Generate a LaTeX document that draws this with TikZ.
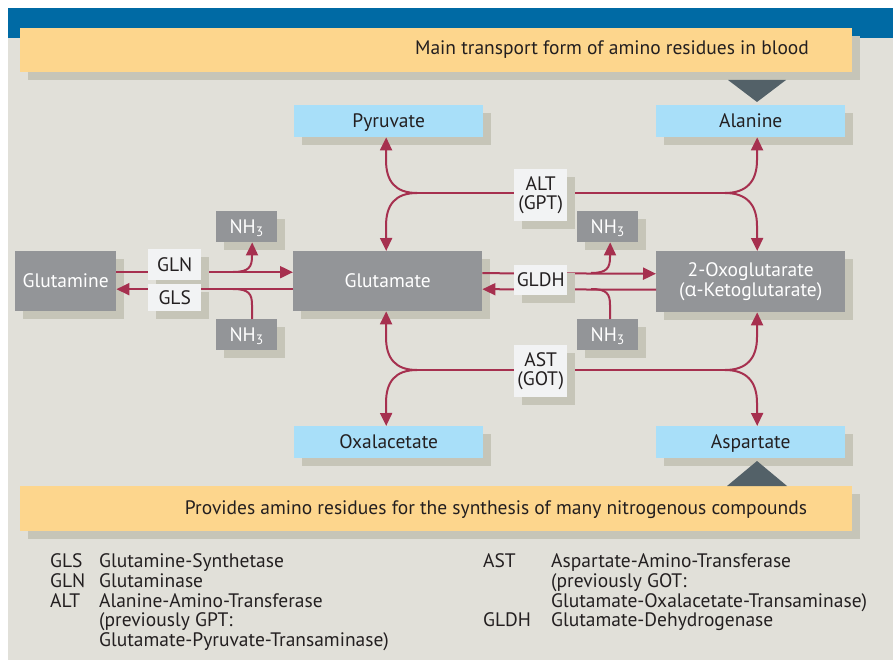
\documentclass[tikz,border=0pt]{standalone}
\usepackage{fontspec}
\setmainfont{PT Sans}
\newfontfamily\grk{Open Sans}
\usetikzlibrary{arrows.meta,shadows}
\definecolor{bgc}{HTML}{E1E0D9}
\definecolor{barc}{HTML}{006AA4}
\definecolor{yelc}{HTML}{FDD68D}
\definecolor{shadc}{HTML}{C6C5B8}
\definecolor{gboxc}{HTML}{939598}
\definecolor{lbluec}{HTML}{A8DFF9}
\definecolor{arrc}{HTML}{A6304F}
\definecolor{tric}{HTML}{536168}
\definecolor{enzc}{HTML}{F2F3F4}
\definecolor{txtc}{HTML}{231F20}
\tikzset{
  shad/.style={drop shadow={shadow xshift=8pt,shadow yshift=-8pt,opacity=1,fill=shadc}},
  fnt/.style={font=\fontsize{19.5}{19.5}\selectfont},
  box/.style={anchor=north west, inner sep=0pt, shad, fnt, align=center},
  one/.style={text height=13.5pt, text depth=0pt},
  metab/.style={box, one, fill=lbluec, text=txtc},
  gbox/.style={box, fill=gboxc, text=white},
  enz/.style={box, fill=enzc, text=txtc},
  ybox/.style={anchor=north west, inner sep=0pt, shad, fill=yelc},
  ln/.style={draw=arrc, line width=2pt},
  arr/.style={ln, -{Triangle[length=13pt,width=12pt]}},
  leg/.style={anchor=base west, inner sep=0pt, fnt, text=txtc},
  tri/.style={fill=tric}
}
\begin{document}
\begin{tikzpicture}[x=1pt,y=-1pt]
\useasboundingbox (0,0) rectangle (893,660);
\fill[white] (0,0) rectangle (893,660);
\fill[bgc] (8,38) rectangle (893,660);
\fill[barc] (8,8) rectangle (893,38);

% top banner
\node[ybox, minimum width=832pt, minimum height=44pt] (topbox) at (20,28) {};
\node[fnt, one, text=txtc] (toptxt) at (612,48) {Main transport form of amino residues in blood};
\fill[tri] (728,80) -- (786,80) -- (757,102) -- cycle;

% metabolites
\node[metab, minimum width=189pt, minimum height=32pt] (pyr) at (294,105) {Pyruvate};
\node[metab, minimum width=189pt, minimum height=32pt] (ala) at (656,105) {Alanine};
\node[gbox, one, minimum width=101pt, minimum height=60pt] (gln) at (15,251) {Glutamine};
\node[gbox, one, minimum width=189pt, minimum height=60pt] (glu) at (293,251) {Glutamate};
\node[gbox, minimum width=189pt, minimum height=61pt] (oxo) at (656,251) {2-Oxoglutarate\\({\grk α}-Ketoglutarate)};
\node[metab, minimum width=189pt, minimum height=32pt] (oxa) at (294,426) {Oxalacetate};
\node[metab, minimum width=189pt, minimum height=32pt] (asp) at (656,426) {Aspartate};

\node[gbox, one, minimum width=61pt, minimum height=31pt] (nh1) at (216,211) {NH\textsubscript{3}};
\node[gbox, one, minimum width=61pt, minimum height=31pt] (nh2) at (216,319) {NH\textsubscript{3}};
\node[gbox, one, minimum width=61pt, minimum height=31pt] (nh3) at (577,211) {NH\textsubscript{3}};
\node[gbox, one, minimum width=61pt, minimum height=31pt] (nh4) at (577,319) {NH\textsubscript{3}};

% GLN / GLS
\draw[arr] ([yshift=9pt]gln.east) -- ([yshift=9pt]glu.west);
\draw[arr] ([yshift=-8pt]glu.west) -- ([yshift=-8pt]gln.east);
\coordinate (b1) at (233,272);
\coordinate (b2) at (233,289);
\draw[arr] (b1) .. controls (249,272) and (252,267) .. (252,256) -- ([xshift=5.5pt]nh1.south);
\draw[ln] ([xshift=5.5pt]nh2.north) -- (252,305) .. controls (252,294) and (249,289) .. (b2);

% GLDH
\draw[arr] ([yshift=8pt]glu.east) -- ([yshift=8pt]oxo.west);
\draw[arr] ([yshift=-8pt]oxo.west) -- ([yshift=-8pt]glu.east);
\coordinate (b3) at (591,273);
\coordinate (b4) at (591,289);
\draw[arr] (b3) .. controls (607,273) and (610,268) .. (610,257) -- ([xshift=2.5pt]nh3.south);
\draw[ln] ([xshift=2.5pt]nh4.north) -- (610,305) .. controls (610,294) and (607,289) .. (b4);

% ALT
\coordinate (altL) at (417,193);
\coordinate (altR) at (725,193);
\draw[ln] (altL) -- (altR);
\draw[arr] (altL) .. controls (395,193) and (386,181) .. (386,160) -- ([xshift=-2.5pt]pyr.south);
\draw[arr] (altL) .. controls (395,193) and (386,205) .. (386,226) -- ([xshift=-1.5pt]glu.north);
\draw[arr] (altR) .. controls (747,193) and (757,181) .. (757,160) -- ([xshift=6.5pt]ala.south);
\draw[arr] (altR) .. controls (747,193) and (757,205) .. (757,226) -- ([xshift=6.5pt]oxo.north);

% AST
\coordinate (astL) at (417,370);
\coordinate (astR) at (725,370);
\draw[ln] (astL) -- (astR);
\draw[arr] (astL) .. controls (395,370) and (386,358) .. (386,337) -- ([xshift=-1.5pt]glu.south);
\draw[arr] (astL) .. controls (395,370) and (386,382) .. (386,403) -- ([xshift=-2.5pt]oxa.north);
\draw[arr] (astR) .. controls (747,370) and (757,358) .. (757,337) -- ([xshift=6.5pt]oxo.south);
\draw[arr] (astR) .. controls (747,370) and (757,382) .. (757,403) -- ([xshift=6.5pt]asp.north);

% enzymes
\node[enz, one, minimum width=53pt, minimum height=31pt] (eGLN) at (148,249) {GLN};
\node[enz, one, minimum width=53pt, minimum height=27pt] (eGLS) at (148,284) {GLS};
\node[enz, minimum width=53pt, minimum height=52pt, font=\fontsize{19.5}{18.5}\selectfont] (eALT) at (514,169) {ALT\\(GPT)};
\node[enz, one, minimum width=53pt, minimum height=30pt] (eGLDH) at (514,265) {GLDH};
\node[enz, minimum width=53pt, minimum height=52pt, font=\fontsize{19.5}{18.5}\selectfont] (eAST) at (514,345) {AST\\(GOT)};

% bottom banner
\node[ybox, minimum width=832pt, minimum height=45pt] (botbox) at (20,486) {};
\node[fnt, one, text=txtc] (bottxt) at (496,508) {Provides amino residues for the synthesis of many nitrogenous compounds};
\fill[tri] (727,486) -- (787,486) -- (757,461) -- cycle;

% legend
\node[leg] (l1a) at (50,567) {GLS};
\node[leg] (l1b) at (99,567) {Glutamine-Synthetase};
\node[leg] (l2a) at (50,587) {GLN};
\node[leg] (l2b) at (99,587) {Glutaminase};
\node[leg] (l3a) at (50,607) {ALT};
\node[leg] (l3b) at (99,607) {Alanine-Amino-Transferase};
\node[leg] (l4b) at (99,626) {(previously GPT:};
\node[leg] (l5b) at (99,646) {Glutamate-Pyruvate-Transaminase)};
\node[leg] (r1a) at (483,567) {AST};
\node[leg] (r1b) at (551,567) {Aspartate-Amino-Transferase};
\node[leg] (r2b) at (551,587) {(previously GOT:};
\node[leg] (r3b) at (551,607) {Glutamate-Oxalacetate-Transaminase)};
\node[leg] (r4a) at (483,626) {GLDH};
\node[leg] (r4b) at (551,626) {Glutamate-Dehydrogenase};
\end{tikzpicture}
\end{document}
